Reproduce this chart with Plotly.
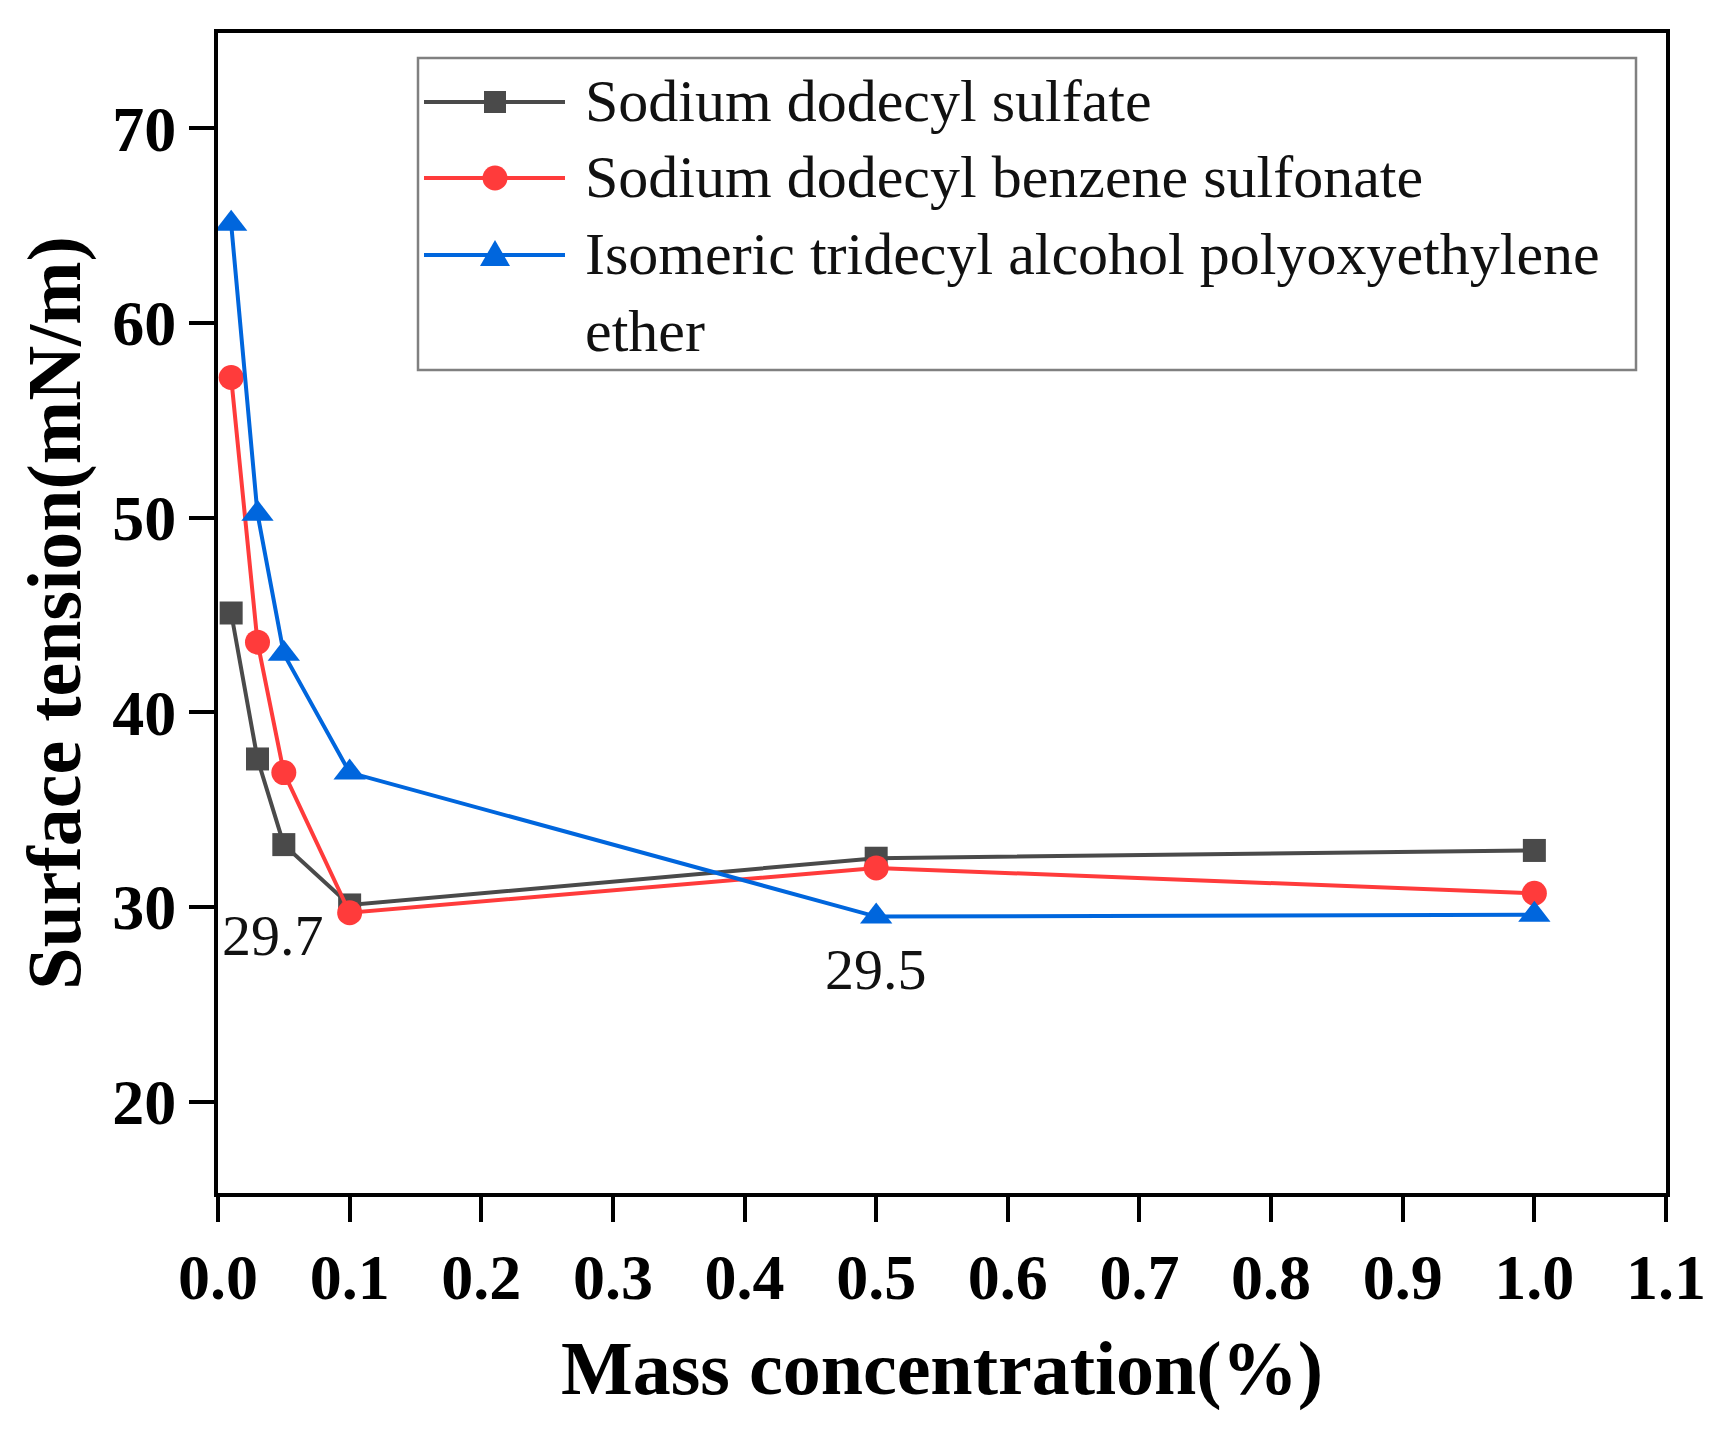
import plotly.graph_objects as go

# ---- data ----
conc = [0.01, 0.03, 0.05, 0.1, 0.5, 1.0]
sds = [45.1, 37.6, 33.2, 30.1, 32.5, 32.9]
sdbs = [57.2, 43.6, 36.9, 29.7, 32.0, 30.7]
itape = [65.1, 50.2, 43.0, 36.9, 29.5, 29.6]
series_names = ["Sodium dodecyl sulfate",
                "Sodium dodecyl benzene sulfonate",
                "Isomeric tridecyl alcohol polyoxyethylene",
                "ether"]
x_ticks = [0.0, 0.1, 0.2, 0.3, 0.4, 0.5, 0.6, 0.7, 0.8, 0.9, 1.0, 1.1]
y_ticks = [20, 30, 40, 50, 60, 70]
note_text = ["29.7", "29.5"]
note_x = [0.042, 0.5]
note_y = [28.55, 26.8]

# ---- styling ----
W, H = 1736, 1433
L, R, T, B = 218, 1666, 33, 1193
SERIF = "Liberation Serif, Times New Roman, serif"
C_BLK = "#4a4a4a"
C_RED = "#ff3b3b"
C_BLU = "#0066dd"


def px(x):
    return (x - L) / (R - L)


def py(y):
    return (B - y) / (B - T)


fig = go.Figure()
specs = [(sds, C_BLK, "square", 23), (sdbs, C_RED, "circle", 25), (itape, C_BLU, "triangle-up", 28)]
for (vals, col, sym, sz), nm in zip(specs, series_names):
    fig.add_trace(go.Scatter(x=conc, y=vals, mode="lines+markers", name=nm,
                             line=dict(color=col, width=4),
                             marker=dict(symbol=sym, size=sz, color=col),
                             showlegend=False))

annotations = []
for t, xx, yy in zip(note_text, note_x, note_y):
    annotations.append(dict(x=xx, y=yy, xref="x", yref="y", text=t, showarrow=False,
                            font=dict(family=SERIF, size=58, color="#111")))

shapes = []
# legend box
shapes.append(dict(type="rect", xref="paper", yref="paper",
                   x0=px(418), x1=px(1636), y0=py(58), y1=py(370),
                   line=dict(color="#808080", width=2.5), fillcolor="rgba(0,0,0,0)"))
rows = [102, 178, 255]
cols = [C_BLK, C_RED, C_BLU]
lx0, lx1, mx = 424, 565, 495
for ry, col in zip(rows, cols):
    shapes.append(dict(type="line", xref="paper", yref="paper",
                       x0=px(lx0), x1=px(lx1), y0=py(ry), y1=py(ry),
                       line=dict(color=col, width=4)))
# markers in legend
s = 11
shapes.append(dict(type="rect", xref="paper", yref="paper",
                   x0=px(mx - s), x1=px(mx + s), y0=py(rows[0] - s), y1=py(rows[0] + s),
                   fillcolor=C_BLK, line=dict(width=0)))
r = 12.5
shapes.append(dict(type="circle", xref="paper", yref="paper",
                   x0=px(mx - r), x1=px(mx + r), y0=py(rows[1] - r), y1=py(rows[1] + r),
                   fillcolor=C_RED, line=dict(width=0)))
ty = rows[2]
tri = "M {} {} L {} {} L {} {} Z".format(px(mx), py(ty - 15), px(mx - 15), py(ty + 11),
                                         px(mx + 15), py(ty + 11))
shapes.append(dict(type="path", xref="paper", yref="paper", path=tri,
                   fillcolor=C_BLU, line=dict(width=0)))
text_rows = [102, 178, 255, 332]
for nm, ry in zip(series_names, text_rows):
    annotations.append(dict(x=px(583), y=py(ry - 1), xref="paper", yref="paper",
                            xanchor="left", yanchor="middle", text=nm, showarrow=False,
                            font=dict(family=SERIF, size=60, color="#111")))

axis_common = dict(showline=True, linecolor="black", linewidth=4, mirror=True,
                   ticks="outside", ticklen=25, tickwidth=4, tickcolor="black",
                   showgrid=False, zeroline=False,
                   tickfont=dict(family=SERIF, size=64, color="black", weight="bold"))

fig.update_layout(
    width=W, height=H,
    margin=dict(l=L, r=W - R, t=T, b=H - B),
    paper_bgcolor="white", plot_bgcolor="white",
    xaxis=dict(range=[0, 1.1], tickvals=x_ticks,
               ticktext=["{:.1f}".format(v) for v in x_ticks],
               title=dict(text="Mass concentration(%)", standoff=30,
                          font=dict(family=SERIF, size=76, color="black", weight="bold")),
               **axis_common),
    yaxis=dict(range=[15.3, 74.9], tickvals=y_ticks,
               title=dict(text="Surface tension(mN/m)", standoff=8,
                          font=dict(family=SERIF, size=76, color="black", weight="bold")),
               **axis_common),
    annotations=annotations,
    shapes=shapes,
)

fig.write_html("out.html")
